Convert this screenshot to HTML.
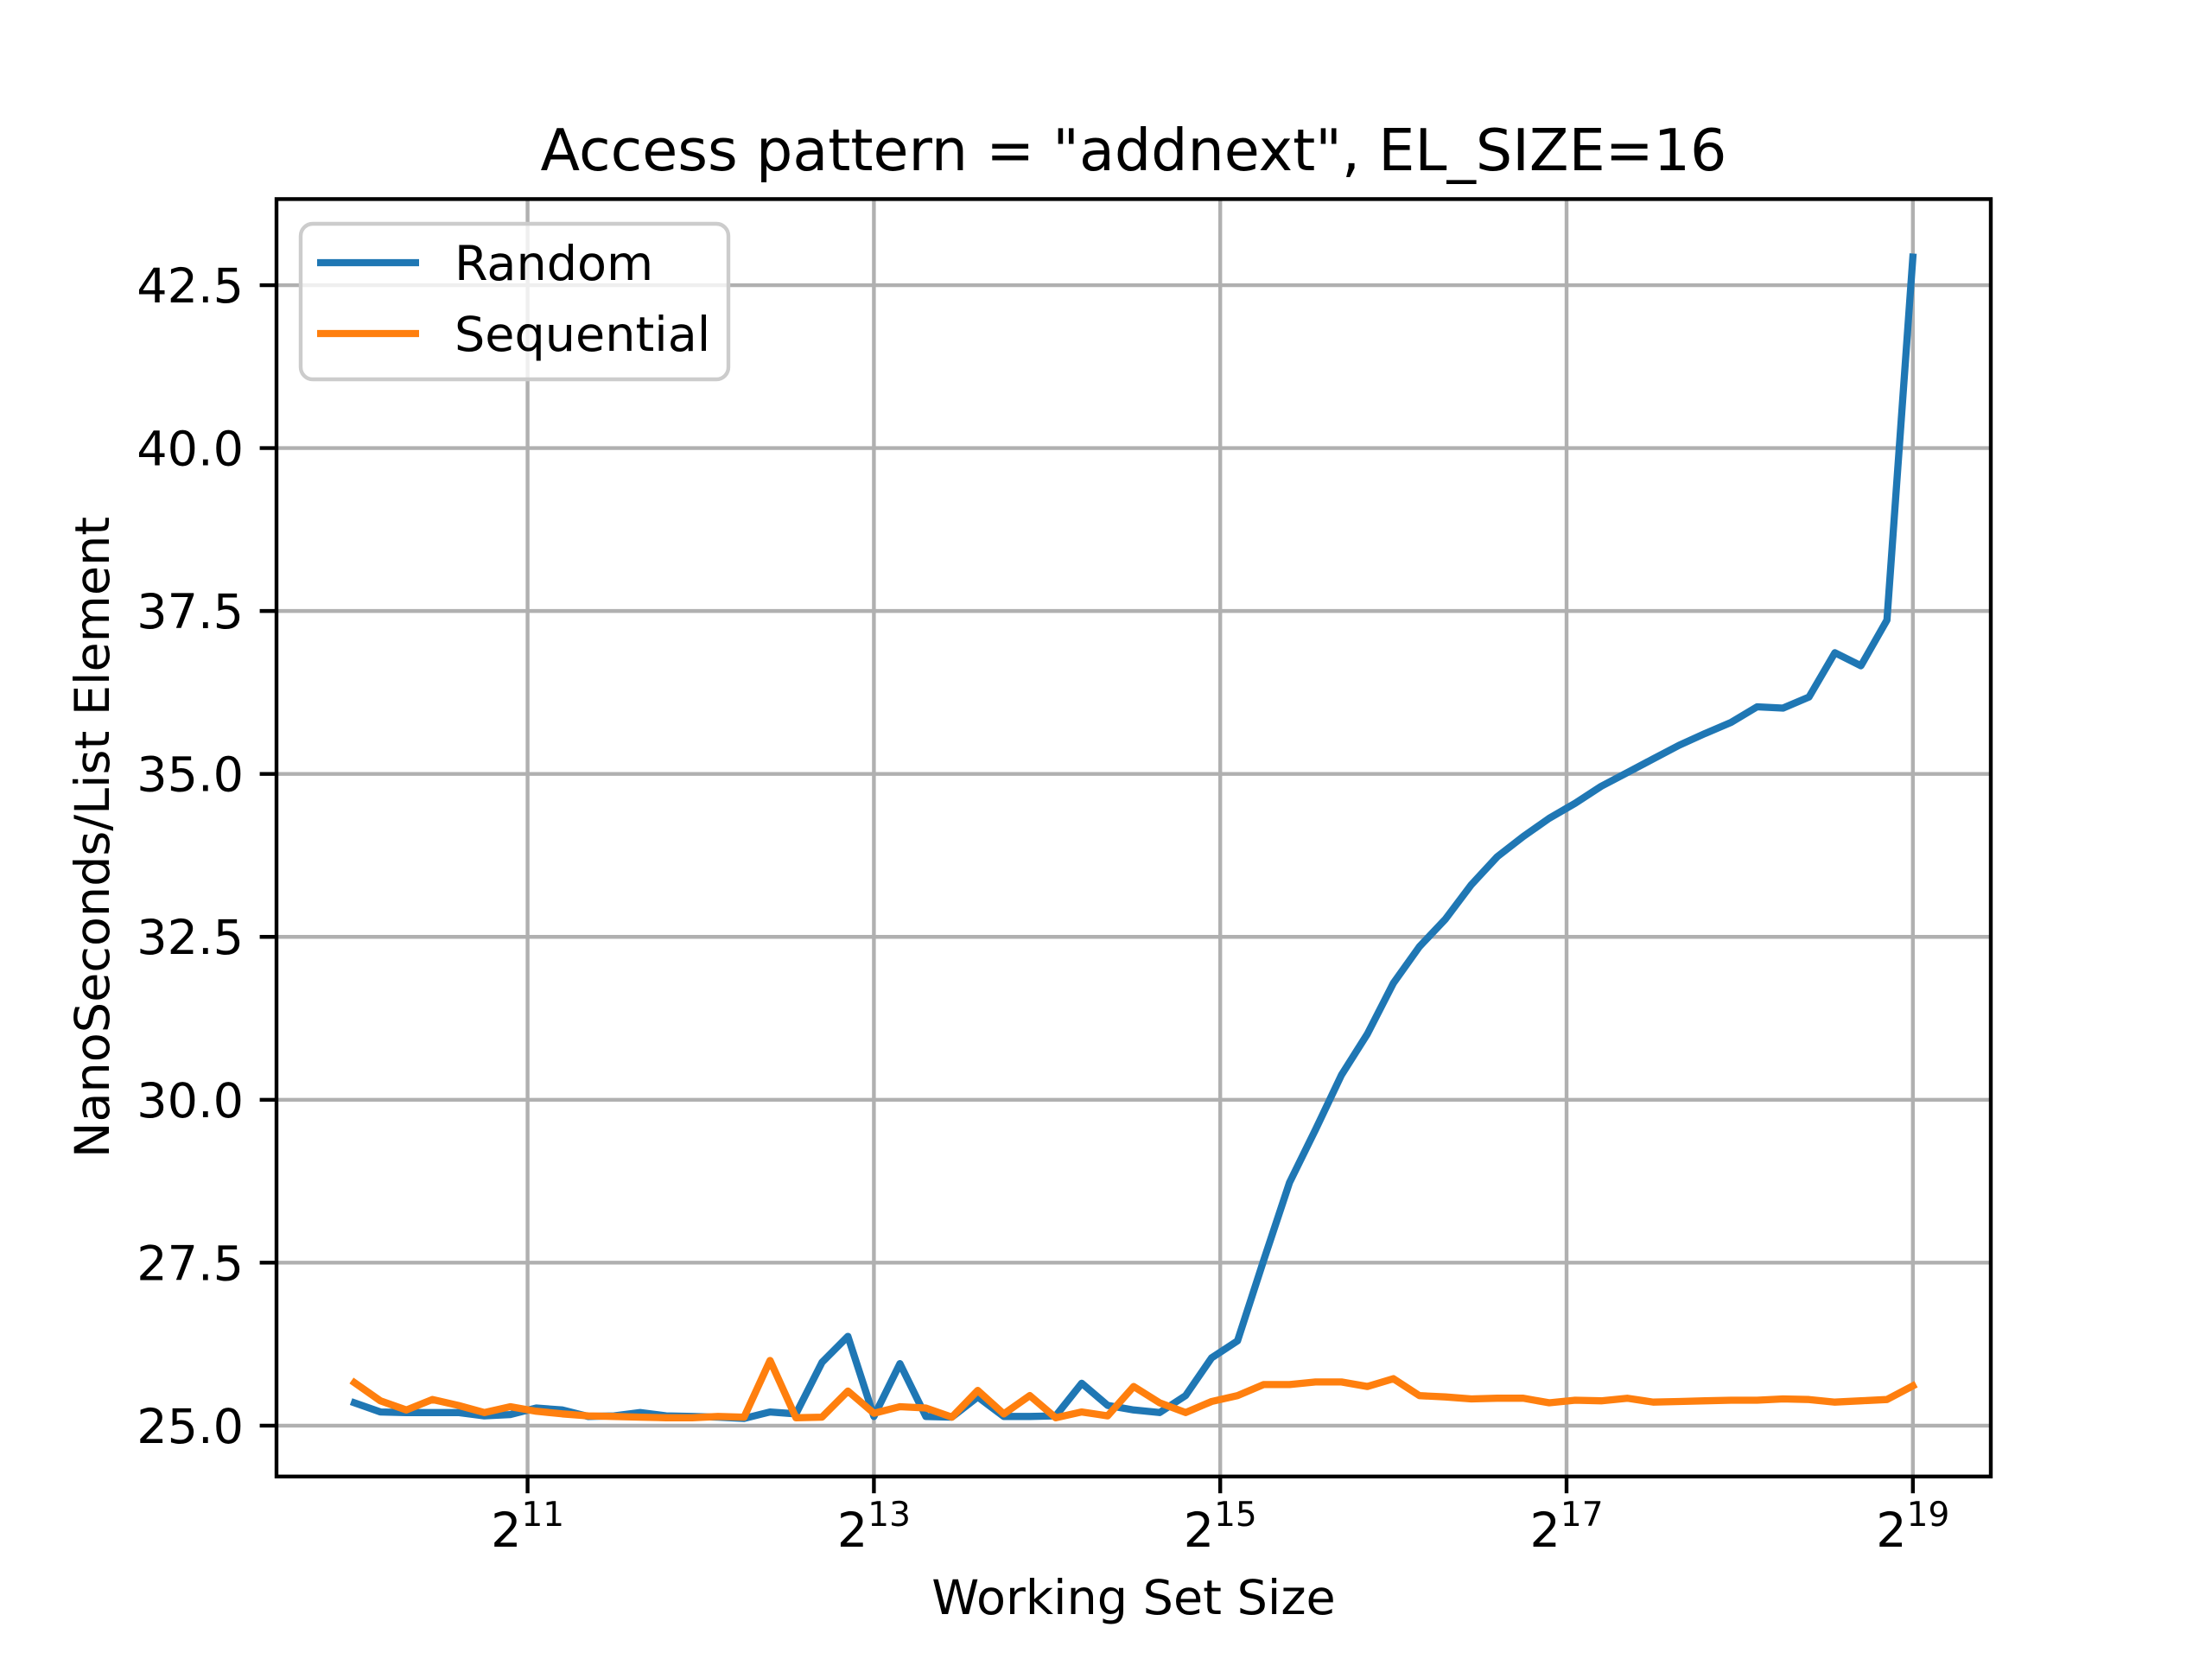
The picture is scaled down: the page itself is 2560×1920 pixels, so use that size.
<!DOCTYPE html>
<html><head><meta charset="utf-8"><style>
html,body{margin:0;padding:0;background:#fff;}
svg{display:block;font-family:"DejaVu Sans","Liberation Sans",sans-serif;}
</style></head><body>
<svg id="chart" width="2560" height="1920" viewBox="0 0 2560 1920" xmlns="http://www.w3.org/2000/svg">
<rect width="2560" height="1920" fill="#fff"/>
<g id="grid"></g>
<g id="series"></g>
<rect x="320" y="230.4" width="1984" height="1478.4" fill="none" stroke="#000" stroke-width="4.4"/>
<g id="ticks"></g>
<text x="1312" y="197" font-size="66.7" text-anchor="middle">Access pattern = "addnext", EL_SIZE=16</text>
<text x="1312" y="1868" font-size="55.6" text-anchor="middle">Working Set Size</text>
<text transform="translate(126,969) rotate(-90)" font-size="55.6" text-anchor="middle">NanoSeconds/List Element</text>
<g>
<rect x="348" y="259" width="495" height="180" rx="14" fill="#fff" fill-opacity="0.8" stroke="#cccccc" stroke-width="4.4"/>
<line x1="367" y1="304" x2="485" y2="304" stroke="#1f77b4" stroke-width="8.3"/>
<text x="526" y="324" font-size="55.6">Random</text>
<line x1="367" y1="386" x2="485" y2="386" stroke="#ff7f0e" stroke-width="8.3"/>
<text x="526" y="406" font-size="55.6">Sequential</text>
</g>
</svg>
<script>
const xExponents = [10,10.15,10.3,10.45,10.6,10.75,10.9,11.05,11.2,11.35,11.5,11.65,11.8,11.95,12.1,12.25,12.4,12.55,12.7,12.85,13,13.15,13.3,13.45,13.6,13.75,13.9,14.05,14.2,14.35,14.5,14.65,14.8,14.95,15.1,15.25,15.4,15.55,15.7,15.85,16,16.15,16.3,16.45,16.6,16.75,16.9,17.05,17.2,17.35,17.5,17.65,17.8,17.95,18.1,18.25,18.4,18.55,18.7,18.85,19];
const randomValues = [25.35,25.21,25.20,25.20,25.20,25.15,25.17,25.27,25.24,25.14,25.15,25.20,25.15,25.14,25.13,25.11,25.21,25.18,25.97,26.37,25.14,25.95,25.14,25.13,25.44,25.14,25.14,25.15,25.65,25.31,25.24,25.20,25.46,26.04,26.30,27.53,28.73,29.54,30.38,31.01,31.79,32.35,32.77,33.30,33.73,34.04,34.32,34.55,34.81,35.02,35.23,35.44,35.62,35.79,36.03,36.01,36.18,36.86,36.66,37.36,42.93];
const sequentialValues = [25.66,25.38,25.24,25.40,25.31,25.20,25.29,25.22,25.18,25.15,25.14,25.13,25.12,25.12,25.14,25.13,26.00,25.12,25.13,25.53,25.19,25.29,25.27,25.13,25.54,25.18,25.46,25.12,25.21,25.15,25.60,25.35,25.20,25.37,25.46,25.63,25.63,25.67,25.67,25.60,25.72,25.46,25.44,25.41,25.42,25.42,25.35,25.39,25.38,25.42,25.36,25.37,25.38,25.39,25.39,25.41,25.40,25.36,25.38,25.40,25.61];
const yTickValues = [25.0,27.5,30.0,32.5,35.0,37.5,40.0,42.5];
const yTickLabels = ["25.0","27.5","30.0","32.5","35.0","37.5","40.0","42.5"];
const xTickExponents = [11,13,15,17,19];

const NS = "http://www.w3.org/2000/svg";
const L = 320, R = 2304, T = 230.4, B = 1708.8;
const allY = randomValues.concat(sequentialValues);
const yLo = Math.min(...allY), yHi = Math.max(...allY);
const yPad = (yHi - yLo) * 0.05;
const y0 = yLo - yPad, y1 = yHi + yPad;
const xLo = Math.min(...xExponents), xHi = Math.max(...xExponents);
const xPad = (xHi - xLo) * 0.05;
const x0 = xLo - xPad, x1 = xHi + xPad;
function sx(e){ return L + (e - x0) / (x1 - x0) * (R - L); }
function sy(v){ return B - (v - y0) / (y1 - y0) * (B - T); }
function mk(tag, attrs, parent){
  const el = document.createElementNS(NS, tag);
  for (const k in attrs) el.setAttribute(k, attrs[k]);
  parent.appendChild(el);
  return el;
}
const grid = document.getElementById('grid');
const ticks = document.getElementById('ticks');
const series = document.getElementById('series');

yTickValues.forEach((v, i) => {
  const y = sy(v);
  const g = mk('line', {x1:L, x2:R, y1:y, y2:y, stroke:'#b0b0b0', 'stroke-width':4.4}, grid);
  
  
  const t = mk('line', {x1:L-19.4, x2:L, y1:y, y2:y, stroke:'#000', 'stroke-width':4.4}, ticks);
  
  
  const lab = mk('text', {x:L-38, y:y+20, 'font-size':55.6, 'text-anchor':'end'}, ticks);
  lab.textContent = yTickLabels[i];
  
  
});
xTickExponents.forEach(e => {
  const x = sx(e);
  const g = mk('line', {x1:x, x2:x, y1:T, y2:B, stroke:'#b0b0b0', 'stroke-width':4.4}, grid);
  
  
  const t = mk('line', {x1:x, x2:x, y1:B, y2:B+19.4, stroke:'#000', 'stroke-width':4.4}, ticks);
  
  
  const lab = mk('text', {x:x, y:1790, 'font-size':55.6, 'text-anchor':'middle'}, ticks);
  
  
  const base = document.createElementNS(NS, 'tspan');
  base.textContent = '2';
  lab.appendChild(base);
  const sup = document.createElementNS(NS, 'tspan');
  sup.setAttribute('dy', '-24');
  sup.setAttribute('font-size', '39');
  sup.textContent = String(e);
  lab.appendChild(sup);
});
function drawLine(vals, color, name){
  const pts = vals.map((v, i) => sx(xExponents[i]).toFixed(1) + ',' + sy(v).toFixed(1)).join(' ');
  const p = mk('polyline', {points:pts, fill:'none', stroke:color, 'stroke-width':8.3, 'stroke-linejoin':'round', 'stroke-linecap':'square'}, series);
  
  
}
drawLine(randomValues, '#1f77b4', 'random-line');
drawLine(sequentialValues, '#ff7f0e', 'sequential-line');
</script>
</body></html>
